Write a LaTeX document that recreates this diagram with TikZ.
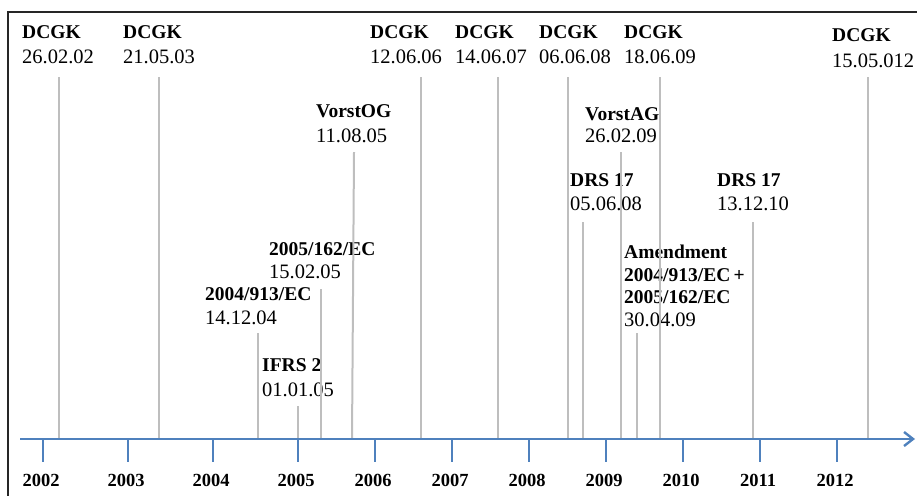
\documentclass[tikz,border=0pt]{standalone}
\usepackage{fontspec}
\setmainfont{Liberation Serif}
\usetikzlibrary{arrows.meta}
\definecolor{axisblue}{RGB}{79,129,189}
\definecolor{evgray}{RGB}{190,190,190}
\tikzset{
  lbl/.style={anchor=base west, inner sep=0pt, font=\fontsize{20.5}{24}\selectfont},
  blbl/.style={lbl, font=\fontsize{19.5}{23}\selectfont\bfseries},
  yearlbl/.style={anchor=base, inner sep=0pt, font=\fontsize{18.5}{22}\selectfont\bfseries},
  evline/.style={draw=evgray, line width=2pt},
  axisline/.style={draw=axisblue, line width=2.8pt},
  frameline/.style={draw=black!85, line width=1.8pt},
}
\begin{document}
\begin{tikzpicture}[x=1pt,y=-1pt]
\useasboundingbox (0,0) rectangle (917,496);
% frame
\coordinate (fTL) at (8,12);
\coordinate (fTR) at (917,12);
\coordinate (fBL) at (8,496);
\draw[frameline] (fTR) -- (fTL) -- (fBL);

% labels
\node[blbl] (l1a) at (22,38.5) {DCGK};
\node[lbl]  (l1b) at (22,63.5) {26.02.02};
\node[blbl] (l2a) at (123,38.5) {DCGK};
\node[lbl]  (l2b) at (123,63.5) {21.05.03};
\node[blbl] (l3a) at (370,38.5) {DCGK};
\node[lbl]  (l3b) at (370,63.5) {12.06.06};
\node[blbl] (l4a) at (455,38.5) {DCGK};
\node[lbl]  (l4b) at (455,63.5) {14.06.07};
\node[blbl] (l5a) at (539,38.5) {DCGK};
\node[lbl]  (l5b) at (539,63.5) {06.06.08};
\node[blbl] (l6a) at (624,38.5) {DCGK};
\node[lbl]  (l6b) at (624,63.5) {18.06.09};
\node[blbl] (l7a) at (832,41.5) {DCGK};
\node[lbl]  (l7b) at (832,67) {15.05.012};
\node[blbl] (l8a) at (316,117) {VorstOG};
\node[lbl]  (l8b) at (316,142.5) {11.08.05};
\node[blbl] (l9a) at (585,120) {VorstAG};
\node[lbl]  (l9b) at (585,142) {26.02.09};
\node[blbl] (l10a) at (570,186.5) {DRS 17};
\node[lbl]  (l10b) at (570,210.5) {05.06.08};
\node[blbl] (l11a) at (717,186.5) {DRS 17};
\node[lbl]  (l11b) at (717,210.5) {13.12.10};
\node[blbl] (l12a) at (269,255.5) {2005/162/EC};
\node[lbl]  (l12b) at (269,278.5) {15.02.05};
\node[blbl] (l13a) at (205,300.5) {2004/913/EC};
\node[lbl]  (l13b) at (205,324.5) {14.12.04};
\node[blbl] (l14a) at (262,371.5) {IFRS 2};
\node[lbl]  (l14b) at (262,396.5) {01.01.05};
\node[blbl] (l15a) at (624,258.5) {Amendment};
\node[blbl] (l15b) at (624,281.5) {2004/913/EC\,+};
\node[blbl] (l15c) at (624,303.5) {2005/162/EC};
\node[lbl]  (l15d) at (624,326.5) {30.04.09};

% event lines
\foreach \n/\xb/\xt/\yt in {e1/59/59/77, e2/159/159/77, e3/421/421/77, e4/498/498/77,
  e5/568/568/77, e6/660/660/77, e7/868/868/77, e8/352/354/152, e9/621/621/152,
  e10/583/583/222, e11/753/753/222, e12/321/321/289, e13/258/258/333,
  e14/298/298/406, e15/637/637/333}{
  \coordinate (\n b) at (\xb,439);
  \coordinate (\n t) at (\xt,\yt);
  \draw[evline] (\n b) -- (\n t);
}

% axis
\coordinate (axS) at (20,439);
\coordinate (axE) at (915,439);
\draw[axisline, -{Straight Barb[length=9pt,width=14pt,line width=2.4pt]}] (axS) -- (axE);

% ticks and years
\foreach \yr/\xx in {2002/43, 2003/128, 2004/213, 2005/298, 2006/375, 2007/452,
  2008/529, 2009/606, 2010/683, 2011/760, 2012/837}{
  \coordinate (t\yr a) at (\xx,439);
  \coordinate (t\yr b) at (\xx,462);
  \draw[axisline, line cap=butt] (t\yr a) -- (t\yr b);
  \node[yearlbl] (y\yr) at (\xx-2,486) {\yr};
}
\end{tikzpicture}
\end{document}
